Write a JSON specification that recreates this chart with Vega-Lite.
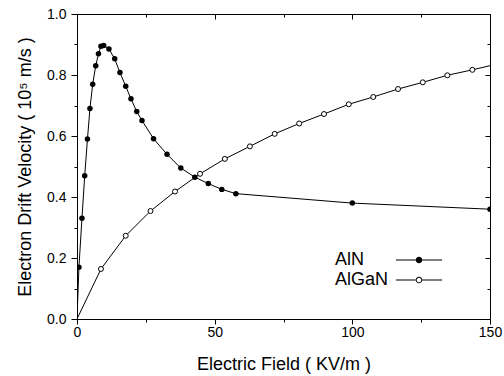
{
  "$schema": "https://vega.github.io/schema/vega-lite/v6.json",
  "width": 413,
  "height": 305,
  "autosize": "none",
  "padding": {"left": 77, "top": 14, "right": 14, "bottom": 57},
  "background": "white",
  "config": {
    "view": {"stroke": null},
    "axis": {"grid": false, "labelFont": "Liberation Sans", "titleFont": "Liberation Sans", "labelFlush": false, "domainColor": "black", "domainWidth": 1, "tickColor": "black", "tickWidth": 1, "labelColor": "black", "titleColor": "black"}
  },
  "data": {"values": [
    {"series": "AlN", "field": 0, "v": 0},
    {"series": "AlN", "field": 0.7, "v": 0.17},
    {"series": "AlN", "field": 1.8, "v": 0.33},
    {"series": "AlN", "field": 2.8, "v": 0.47},
    {"series": "AlN", "field": 3.8, "v": 0.59},
    {"series": "AlN", "field": 4.7, "v": 0.69},
    {"series": "AlN", "field": 5.7, "v": 0.77},
    {"series": "AlN", "field": 6.8, "v": 0.83},
    {"series": "AlN", "field": 7.8, "v": 0.87},
    {"series": "AlN", "field": 8.7, "v": 0.894},
    {"series": "AlN", "field": 9.7, "v": 0.897},
    {"series": "AlN", "field": 11.6, "v": 0.885},
    {"series": "AlN", "field": 13.7, "v": 0.853},
    {"series": "AlN", "field": 15.6, "v": 0.808},
    {"series": "AlN", "field": 17.7, "v": 0.763},
    {"series": "AlN", "field": 19.6, "v": 0.722},
    {"series": "AlN", "field": 21.7, "v": 0.68},
    {"series": "AlN", "field": 23.6, "v": 0.651},
    {"series": "AlN", "field": 27.8, "v": 0.591},
    {"series": "AlN", "field": 32.7, "v": 0.54},
    {"series": "AlN", "field": 37.7, "v": 0.495},
    {"series": "AlN", "field": 42.8, "v": 0.465},
    {"series": "AlN", "field": 47.7, "v": 0.444},
    {"series": "AlN", "field": 52.6, "v": 0.425},
    {"series": "AlN", "field": 57.7, "v": 0.411},
    {"series": "AlN", "field": 100, "v": 0.38},
    {"series": "AlN", "field": 150, "v": 0.36},
    {"series": "AlGaN", "field": 0, "v": 0},
    {"series": "AlGaN", "field": 8.7, "v": 0.164},
    {"series": "AlGaN", "field": 17.7, "v": 0.273},
    {"series": "AlGaN", "field": 26.7, "v": 0.354},
    {"series": "AlGaN", "field": 35.6, "v": 0.418},
    {"series": "AlGaN", "field": 44.7, "v": 0.476},
    {"series": "AlGaN", "field": 53.7, "v": 0.525},
    {"series": "AlGaN", "field": 62.8, "v": 0.566},
    {"series": "AlGaN", "field": 71.8, "v": 0.607},
    {"series": "AlGaN", "field": 80.7, "v": 0.641},
    {"series": "AlGaN", "field": 89.7, "v": 0.672},
    {"series": "AlGaN", "field": 98.7, "v": 0.704},
    {"series": "AlGaN", "field": 107.6, "v": 0.728},
    {"series": "AlGaN", "field": 116.6, "v": 0.754},
    {"series": "AlGaN", "field": 125.6, "v": 0.776},
    {"series": "AlGaN", "field": 134.5, "v": 0.799},
    {"series": "AlGaN", "field": 143.6, "v": 0.817},
    {"series": "AlGaN", "field": 152.6, "v": 0.836}
  ]},
  "resolve": {"scale": {"x": "independent", "y": "independent"}},
  "layer": [
    {
      "transform": [{"filter": "datum.series === 'AlN'"}],
      "mark": {"type": "line", "color": "black", "strokeWidth": 1, "clip": true},
      "encoding": {
        "x": {"field": "field", "type": "quantitative", "scale": {"domain": [0, 150], "nice": false},
              "axis": {"orient": "bottom", "values": [0, 50, 100, 150], "tickSize": 5, "labelFontSize": 14, "labelPadding": 1, "title": "Electric Field ( KV/m )", "titleFontSize": 18, "titleFontWeight": "normal", "titlePadding": 16}},
        "y": {"field": "v", "type": "quantitative", "scale": {"domain": [0, 1], "nice": false},
              "axis": {"orient": "left", "values": [0, 0.2, 0.4, 0.6, 0.8, 1.0], "format": ".1f", "tickSize": 6, "labelFontSize": 14, "labelPadding": 5, "title": "Electron Drift Velocity ( 10⁵ m/s )", "titleFontSize": 18, "titleFontWeight": "normal", "titlePadding": 12}}
      }
    },
    {
      "transform": [{"filter": "datum.series === 'AlN' && datum.field > 0"}],
      "mark": {"type": "point", "filled": true, "color": "black", "size": 30, "opacity": 1, "clip": true},
      "encoding": {
        "x": {"field": "field", "type": "quantitative", "scale": {"domain": [0, 150], "nice": false},
              "axis": {"orient": "bottom", "values": [25, 75, 125], "tickSize": 3, "labels": false, "domain": false, "title": null}},
        "y": {"field": "v", "type": "quantitative", "scale": {"domain": [0, 1], "nice": false},
              "axis": {"orient": "left", "values": [0.1, 0.3, 0.5, 0.7, 0.9], "tickSize": 3, "labels": false, "domain": false, "title": null}}
      }
    },
    {
      "transform": [{"filter": "datum.series === 'AlGaN'"}],
      "mark": {"type": "line", "color": "black", "strokeWidth": 1, "clip": true},
      "encoding": {
        "x": {"field": "field", "type": "quantitative", "scale": {"domain": [0, 150], "nice": false},
              "axis": {"orient": "top", "values": [0, 50, 100, 150], "tickSize": -5, "labels": false, "title": null}},
        "y": {"field": "v", "type": "quantitative", "scale": {"domain": [0, 1], "nice": false},
              "axis": {"orient": "right", "values": [0, 0.2, 0.4, 0.6, 0.8, 1.0], "tickSize": -5, "labels": false, "title": null}}
      }
    },
    {
      "transform": [{"filter": "datum.series === 'AlGaN' && datum.field > 0"}],
      "mark": {"type": "point", "filled": true, "fill": "white", "stroke": "black", "strokeWidth": 1, "size": 25, "opacity": 1, "clip": true},
      "encoding": {
        "x": {"field": "field", "type": "quantitative", "scale": {"domain": [0, 150], "nice": false},
              "axis": {"orient": "top", "values": [25, 75, 125], "tickSize": -3, "labels": false, "domain": false, "title": null}},
        "y": {"field": "v", "type": "quantitative", "scale": {"domain": [0, 1], "nice": false},
              "axis": {"orient": "right", "values": [0.1, 0.3, 0.5, 0.7, 0.9], "tickSize": -3, "labels": false, "domain": false, "title": null}}
      }
    },
    {
      "mark": {"type": "point", "filled": true, "color": "black", "opacity": 0},
      "encoding": {
        "x": {"field": "field", "type": "quantitative", "scale": {"domain": [0, 150], "nice": false}, "axis": null},
        "y": {"field": "v", "type": "quantitative", "scale": {"domain": [0, 1], "nice": false}, "axis": null},
        "fill": {"field": "series", "type": "nominal", "scale": {"domain": ["AlN", "AlGaN"], "range": ["black", "black"]},
                 "legend": {"title": null, "orient": "none", "legendX": 331, "legendY": 235, "padding": 0, "rowPadding": 0, "labelFontSize": 18, "labelFont": "Liberation Sans", "labelColor": "black", "labelOffset": -95, "labelAlign": "left", "symbolSize": 484, "symbolStrokeWidth": 0, "symbolOpacity": 1}},
        "shape": {"field": "series", "type": "nominal", "scale": {"domain": ["AlN", "AlGaN"], "range": ["M-2.1,-0.045L-0.3,-0.045L-0.3,0.045L-2.1,0.045Z M0.3,-0.045L2.1,-0.045L2.1,0.045L0.3,0.045Z M-0.3,0A0.3,0.3,0,1,1,0.3,0A0.3,0.3,0,1,1,-0.3,0Z", "M-2.1,-0.045L-0.3,-0.045L-0.3,0.045L-2.1,0.045Z M0.3,-0.045L2.1,-0.045L2.1,0.045L0.3,0.045Z M-0.3,0A0.3,0.3,0,1,1,0.3,0A0.3,0.3,0,1,1,-0.3,0Z M-0.21,0A0.21,0.21,0,1,0,0.21,0A0.21,0.21,0,1,0,-0.21,0Z"]},
                  "legend": {"title": null, "orient": "none", "legendX": 331, "legendY": 235, "padding": 0, "rowPadding": 0, "labelFontSize": 18, "labelFont": "Liberation Sans", "labelColor": "black", "labelOffset": -95, "labelAlign": "left", "symbolSize": 484, "symbolStrokeWidth": 0, "symbolOpacity": 1}}
      }
    }
  ]
}
